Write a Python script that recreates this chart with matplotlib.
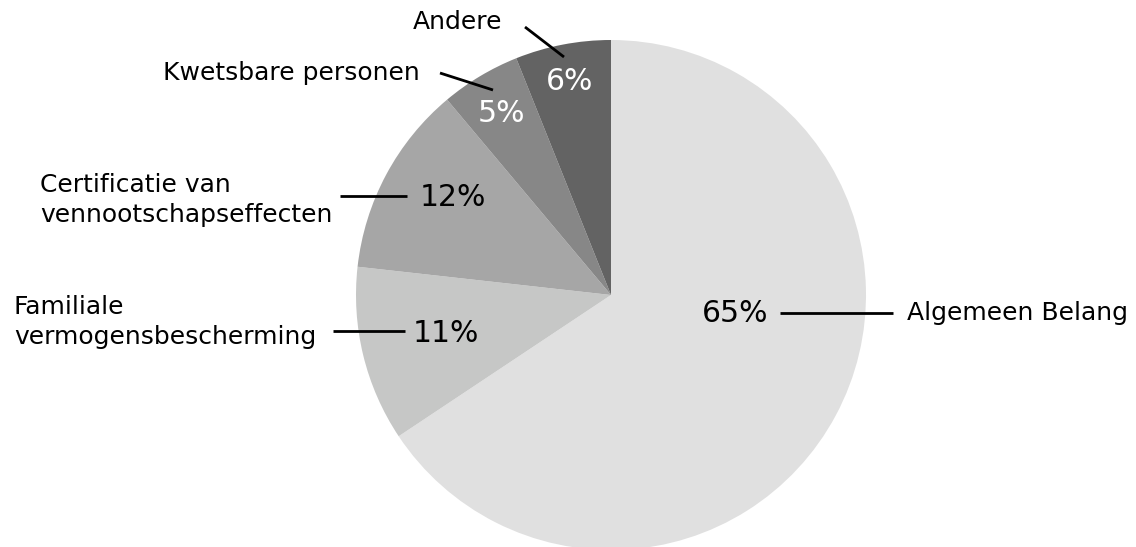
import matplotlib.pyplot as plt

labels = ["Algemeen Belang", "Familiale\nvermogensbescherming", "Certificatie van\nvennootschapseffecten",
          "Kwetsbare personen", "Andere"]
shares = [65, 11, 12, 5, 6]
colors = ["#e0e0e0", "#c6c7c6", "#a6a6a6", "#878787", "#636363"]

W, H = 1136, 547
fig = plt.figure(figsize=(W / 100, H / 100), dpi=100)
ax = fig.add_axes([0, 0, 1, 1])

cx, cy, r = 611, H - 295, 255
ax.pie(shares, colors=colors, startangle=90, counterclock=False, center=(cx, cy), radius=r,
       frame=True, wedgeprops=dict(linewidth=0))
ax.set_xlim(0, W)
ax.set_ylim(0, H)
ax.set_aspect("equal")
ax.axis("off")

def Y(y):
    return H - y

# percent text positions, label positions and leader lines (pixel coords, top origin)
pct_pos = [(735, 313), (446, 334), (453, 197), (501, 113), (570, 82)]
pct_col = ["black", "black", "black", "white", "white"]
lines = [((780, 313), (893, 313)), ((333, 331), (405, 331)), ((340, 196), (407, 196)),
         ((440, 73), (493, 90)), ((525, 27), (564, 57))]
lab_pos = [(907, 313, "left"), (14, 322, "left"), (40, 200, "left"), (420, 73, "right"), (458, 22, "center")]

for i, s in enumerate(shares):
    x, y = pct_pos[i]
    ax.text(x, Y(y), f"{s}%", fontsize=21.5, color=pct_col[i], ha="center", va="center")
    (x0, y0), (x1, y1) = lines[i]
    ax.plot([x0, x1], [Y(y0), Y(y1)], color="black", lw=2, solid_capstyle="butt")
    lx, ly, ha = lab_pos[i]
    ax.text(lx, Y(ly), labels[i], fontsize=18, ha=ha, va="center", multialignment="left",
            linespacing=1.35)

fig.savefig("out.png", dpi=100)
